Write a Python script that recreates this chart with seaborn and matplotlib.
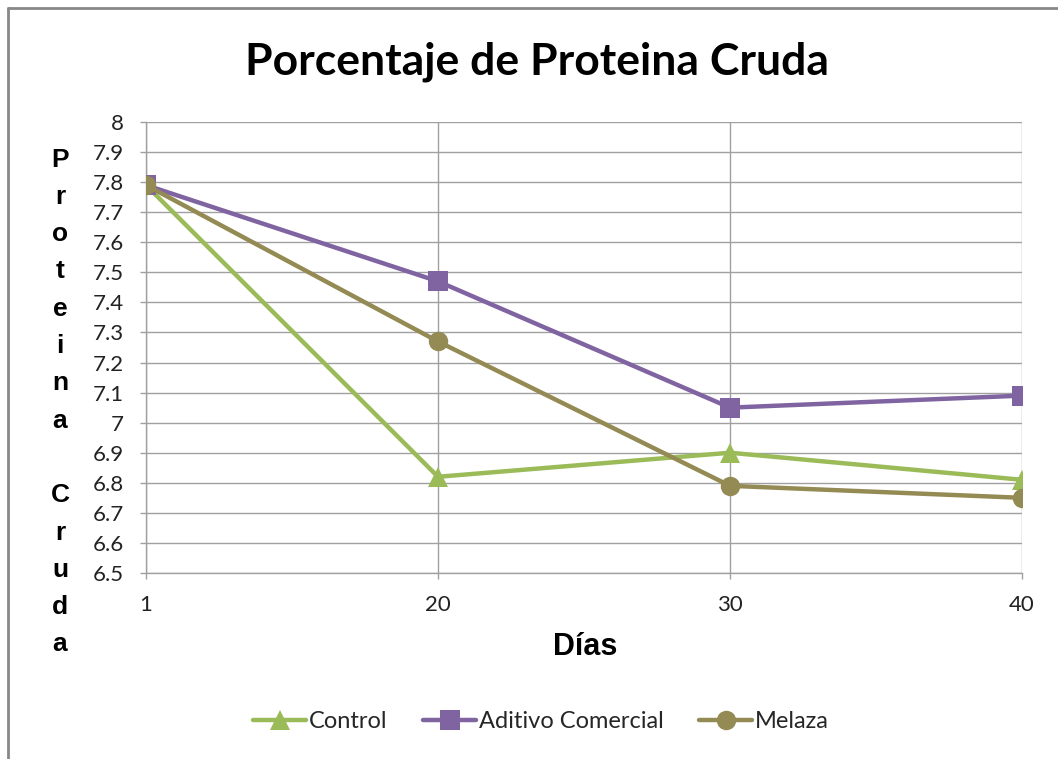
import matplotlib
matplotlib.use("Agg")
import matplotlib.pyplot as plt
import seaborn as sns
import pandas as pd
from matplotlib.lines import Line2D

dias = ["1", "20", "30", "40"]
control = [7.79, 6.82, 6.90, 6.81]
aditivo = [7.79, 7.47, 7.05, 7.09]
melaza = [7.79, 7.27, 6.79, 6.75]
series_names = ["Control", "Aditivo Comercial", "Melaza"]
y_ticks = [6.5, 6.6, 6.7, 6.8, 6.9, 7.0, 7.1, 7.2, 7.3, 7.4, 7.5, 7.6, 7.7, 7.8, 7.9, 8.0]
y_labels = ["6.5", "6.6", "6.7", "6.8", "6.9", "7", "7.1", "7.2", "7.3", "7.4",
            "7.5", "7.6", "7.7", "7.8", "7.9", "8"]

rows = []
for name, vals in zip(series_names, [control, aditivo, melaza]):
    for i, (d, v) in enumerate(zip(dias, vals)):
        rows.append({"pos": i, "Días": d, "valor": v, "serie": name})
df = pd.DataFrame(rows)

sns.set_theme(style="white")
plt.rcParams["font.family"] = ["Lato", "DejaVu Sans"]

colors = {"Control": "#9BBB59", "Aditivo Comercial": "#8064A2", "Melaza": "#948A54"}
markers = {"Control": "^", "Aditivo Comercial": "s", "Melaza": "o"}

fig = plt.figure(figsize=(10.58, 7.59), dpi=100)
W, H = 1058, 759
ax = fig.add_axes([146 / W, 1 - 573 / H, (1022 - 146) / W, (573 - 122) / H])

sns.lineplot(data=df, x="pos", y="valor", hue="serie", style="serie",
             palette=colors, markers=markers, dashes=False, linewidth=3.2,
             markersize=14, markeredgewidth=0, ax=ax, legend=False, zorder=3,
             hue_order=series_names, style_order=series_names)

ax.set_xlim(0, 3)
ax.set_ylim(6.5, 8.0)
ax.set_xticks(range(len(dias)))
ax.set_xticklabels(dias)
ax.set_yticks(y_ticks)
ax.set_yticklabels(y_labels)
ax.tick_params(axis="both", labelsize=16, length=4, width=1, direction="out",
               left=True, bottom=True, color="#A0A0A0", labelcolor="#222222")
ax.tick_params(axis="x", pad=12)
ax.tick_params(axis="y", pad=12)

ax.grid(True, color="#A0A0A0", linewidth=1)
ax.set_axisbelow(True)
for s in ["top", "right"]:
    ax.spines[s].set_visible(False)
for s in ["left", "bottom"]:
    ax.spines[s].set_color("#A0A0A0")
    ax.spines[s].set_linewidth(1)

ax.set_xlabel("")
ax.set_ylabel("")

fig.text(537 / W, 1 - 62 / H, "Porcentaje de Proteina Cruda", ha="center",
         va="center", fontsize=32, fontweight="bold", color="black")
fig.text(585 / W, 1 - 647 / H, "Días", ha="center", va="center", fontsize=22,
         fontweight="bold", family=["Liberation Sans", "DejaVu Sans"], color="black")
fig.text(60 / W, 1 - 402 / H, "P\nr\no\nt\ne\ni\nn\na\n\nC\nr\nu\nd\na",
         ha="center", va="center", fontsize=19, fontweight="bold",
         family=["Liberation Sans", "DejaVu Sans"], linespacing=1.70, color="black")

handles = [Line2D([0], [0], color=colors[n], marker=markers[n], linewidth=3.2,
                  markersize=14, markeredgewidth=0) for n in series_names]
fig.legend(handles, series_names, loc="center", bbox_to_anchor=(541 / W, 1 - 722 / H),
           ncol=3, frameon=False, fontsize=17, handlelength=2.25, columnspacing=1.5,
           handletextpad=0.12)

fig.add_artist(Line2D([8 / W, 1.0], [1 - 8 / H, 1 - 8 / H], color="#888888",
                      linewidth=2, transform=fig.transFigure))
fig.add_artist(Line2D([8 / W, 8 / W], [1 - 8 / H, 0.0], color="#888888",
                      linewidth=2, transform=fig.transFigure))

fig.savefig("out.png", dpi=100)
